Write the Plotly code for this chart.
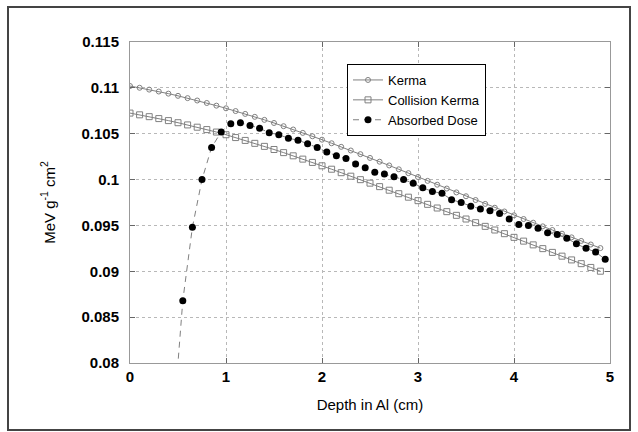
import plotly.graph_objects as go

# Depth grid (cm) for kerma curves
depth = [round(0.1 * i, 1) for i in range(50)]

kerma = [
    0.11020, 0.11001, 0.10981, 0.10960, 0.10937, 0.10913, 0.10888, 0.10862, 0.10835, 0.10806,
    0.10777, 0.10747, 0.10716, 0.10684, 0.10651, 0.10617, 0.10582, 0.10546, 0.10509, 0.10472,
    0.10435, 0.10396, 0.10357, 0.10317, 0.10277, 0.10236, 0.10195, 0.10154, 0.10112, 0.10070,
    0.10028, 0.09986, 0.09944, 0.09902, 0.09860, 0.09818, 0.09777, 0.09735, 0.09693, 0.09652,
    0.09610, 0.09570, 0.09530, 0.09490, 0.09450, 0.09410, 0.09370, 0.09331, 0.09292, 0.09253,
]

collision_kerma = [
    0.10725, 0.10706, 0.10686, 0.10665, 0.10643, 0.10620, 0.10596, 0.10571, 0.10545, 0.10518,
    0.10489, 0.10458, 0.10427, 0.10395, 0.10362, 0.10328, 0.10294, 0.10259, 0.10223, 0.10187,
    0.10150, 0.10113, 0.10075, 0.10037, 0.09999, 0.09961, 0.09923, 0.09884, 0.09846, 0.09808,
    0.09770, 0.09730, 0.09690, 0.09650, 0.09610, 0.09570, 0.09530, 0.09490, 0.09450, 0.09410,
    0.09370, 0.09329, 0.09288, 0.09247, 0.09206, 0.09165, 0.09124, 0.09083, 0.09042, 0.09001,
]

# Absorbed dose, scored at bin centres
dose_depth = [round(0.45 + 0.1 * i, 2) for i in range(46)]
absorbed_dose = [
    0.0733, 0.0868, 0.0948, 0.1000, 0.1035, 0.1052, 0.1061, 0.1062, 0.1059, 0.1056,
    0.1051, 0.1049, 0.1045, 0.1043, 0.1039, 0.1035, 0.1030, 0.1026, 0.1023, 0.1017,
    0.1013, 0.1008, 0.1006, 0.1003, 0.1000, 0.0996, 0.0991, 0.0987, 0.0985, 0.0978,
    0.0975, 0.0971, 0.0968, 0.0966, 0.0963, 0.0957, 0.0951, 0.0950, 0.0947, 0.0942,
    0.0940, 0.0936, 0.0930, 0.0925, 0.0921, 0.0913,
]

x_ticks = [0, 1, 2, 3, 4, 5]
y_ticks = [0.08, 0.085, 0.09, 0.095, 0.1, 0.105, 0.11, 0.115]
y_tick_text = ["0.08", "0.085", "0.09", "0.095", "0.1", "0.105", "0.11", "0.115"]

FONT = "Liberation Sans, Arial, sans-serif"
GRAY = "#808080"

fig = go.Figure()

fig.add_trace(go.Scatter(
    x=depth, y=kerma, name="Kerma", mode="lines+markers",
    line=dict(color=GRAY, width=1),
    marker=dict(symbol="circle-open", size=5, color=GRAY, line=dict(width=1)),
))
fig.add_trace(go.Scatter(
    x=depth, y=collision_kerma, name="Collision Kerma", mode="lines+markers",
    line=dict(color=GRAY, width=1),
    marker=dict(symbol="square-open", size=6, color=GRAY, line=dict(width=1)),
))
fig.add_trace(go.Scatter(
    x=dose_depth, y=absorbed_dose, name="Absorbed Dose", mode="lines+markers",
    line=dict(color=GRAY, width=1, dash="6px,5px"),
    marker=dict(symbol="circle", size=7, color="black"),
))

axis_common = dict(
    showline=True, linecolor="#999999", linewidth=1, mirror="ticks",
    ticks="inside", ticklen=5, tickcolor="#666666",
    showgrid=True, gridcolor="#b8b8b8", griddash="dot", gridwidth=1,
    zeroline=False,
    tickfont=dict(family=FONT, size=15, color="black", weight="bold"),
)

fig.update_xaxes(
    range=[0, 5], tickvals=x_ticks,
    title=dict(text="Depth in Al (cm)", font=dict(family=FONT, size=15, color="black"), standoff=15),
    **axis_common,
)
fig.update_yaxes(
    range=[0.08, 0.115], tickvals=y_ticks, ticktext=y_tick_text,
    ticklabelstandoff=7,
    title=dict(text="MeV g<sup>-1</sup> cm<sup>2</sup>", font=dict(family=FONT, size=15, color="black"), standoff=22),
    **axis_common,
)

# Outer frame around the whole figure
L, R, T, B = 130, 28, 42, 69
W, H = 638, 432
pw, ph = W - L - R, H - T - B
def px_x(p):
    return (p - L) / pw
def px_y(p):
    return (H - B - p) / ph

fig.add_shape(
    type="rect", xref="paper", yref="paper",
    x0=px_x(8), x1=px_x(630), y0=px_y(430), y1=px_y(7),
    line=dict(color="#444444", width=2), layer="below",
)

fig.update_layout(
    width=W, height=H,
    margin=dict(l=L, r=R, t=T, b=B),
    paper_bgcolor="white", plot_bgcolor="white",
    showlegend=True,
    legend=dict(
        x=px_x(347), y=px_y(64), xanchor="left", yanchor="top",
        bgcolor="white", bordercolor="black", borderwidth=1,
        font=dict(family=FONT, size=13, color="black"),
        itemwidth=30, tracegroupgap=0,
    ),
)

fig.write_html("out.html")
